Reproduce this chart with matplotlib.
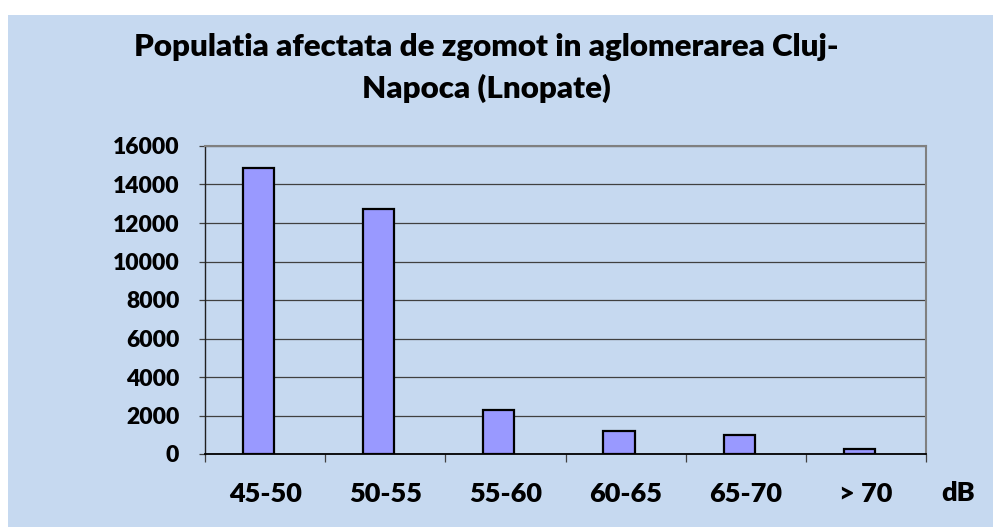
import matplotlib
matplotlib.use("Agg")
import matplotlib.pyplot as plt
import numpy as np
from matplotlib.patches import Rectangle

# data
categories = ["45-50", "50-55", "55-60", "60-65", "65-70", "> 70"]
population = [14850, 12730, 2270, 1195, 970, 240]
y_ticks = [0, 2000, 4000, 6000, 8000, 10000, 12000, 14000, 16000]

BG = "#C6D9F0"
BAR = "#9999FF"

plt.rcParams["font.family"] = ["Lato", "DejaVu Sans"]
plt.rcParams["font.weight"] = "heavy"

fig = plt.figure(figsize=(9.93, 5.27), dpi=100)
fig.patch.set_facecolor("white")
fig.patches.append(Rectangle((8 / 993, 0), 1, 512 / 527, transform=fig.transFigure,
                             facecolor=BG, edgecolor="none", zorder=-10))

ax = fig.add_axes([205 / 993, 73 / 527, 721 / 993, 308 / 527])
ax.set_facecolor(BG)

x = np.arange(len(categories))
ax.bar(x - 0.055, population, width=0.26, color=BAR, edgecolor="black",
       linewidth=1.6, zorder=3)

ax.set_xlim(-0.5, len(categories) - 0.5)
ax.set_ylim(0, 16000)
ax.set_yticks(y_ticks)
ax.set_yticklabels([str(v) for v in y_ticks], fontsize=16.5, fontweight="heavy")
ax.yaxis.grid(True, color="#404040", linewidth=0.9, zorder=1)
ax.set_axisbelow(True)

ax.set_xticks(x)
ax.set_xticklabels(categories, fontsize=19.5, fontweight="heavy")
ax.set_xticks(np.arange(-0.5, len(categories)), minor=True)
ax.tick_params(axis="x", which="major", length=0, pad=20)
ax.tick_params(axis="x", which="minor", length=6, width=0.9, color="#404040",
               direction="out")
ax.tick_params(axis="y", length=4.5, width=0.9, color="#404040", pad=14)

for side in ("top", "right"):
    ax.spines[side].set_color("#808080")
    ax.spines[side].set_linewidth(1.5)
ax.spines["left"].set_color("#202020")
ax.spines["left"].set_linewidth(1.0)
ax.spines["bottom"].set_color("black")
ax.spines["bottom"].set_linewidth(1.3)

fig.text(486 / 993, 1 - 47 / 527, "Populatia afectata de zgomot in aglomerarea Cluj-",
         ha="center", va="center", fontsize=22.5, fontweight="heavy")
fig.text(486 / 993, 1 - 88 / 527, "Napoca (Lnopate)",
         ha="center", va="center", fontsize=22.5, fontweight="heavy")
fig.text(958 / 993, 1 - 493 / 527, "dB", ha="center", va="center",
         fontsize=19.5, fontweight="heavy")

fig.savefig("out.png", dpi=100, facecolor=fig.get_facecolor())
